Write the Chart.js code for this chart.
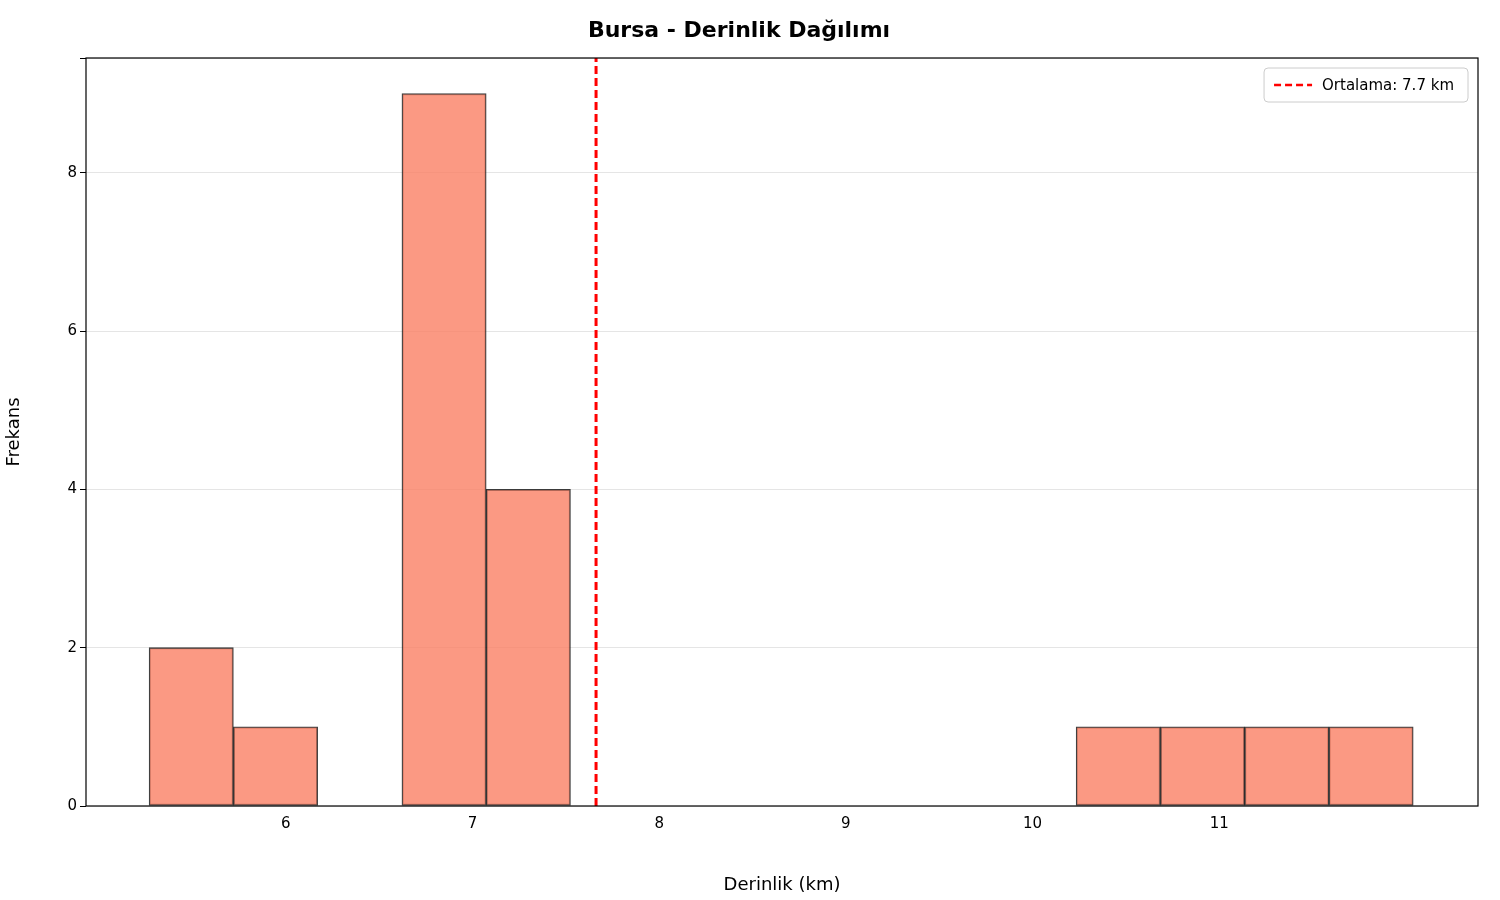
<!DOCTYPE html>
<html><head><meta charset="utf-8">
<script src="https://cdn.jsdelivr.net/npm/chart.js@4"></script>
<style>html,body{margin:0;padding:0;background:#fff}#w{width:1500px;height:900px}</style>
</head><body><div id="w"><canvas id="c"></canvas></div>
<script>
const binStart = 5.268;
const binWidth = 0.4514;
const counts = [2,1,0,9,4,0,0,0,0,0,0,1,1,1,1];
const meanDepth = 7.662;
const meanLabel = 'Ortalama: 7.7 km';
const titleText = 'Bursa - Derinlik Dağılımı';
const xTitle = 'Derinlik (km)';
const yTitle = 'Frekans';

const barData = counts.map((c,i)=>({x: binStart + (i+0.5)*binWidth, y: c}));
const font = 'DejaVu Sans';

const frame = {
  id:'frame',
  afterDraw(ch){
    const a=ch.chartArea, g=ch.ctx;
    g.save(); g.strokeStyle='#000'; g.lineWidth=1.2;
    g.strokeRect(a.left, a.top, a.right-a.left, a.bottom-a.top);
    // legend
    g.font='15px '+font;
    const tw=g.measureText(meanLabel).width;
    const w=tw+72, h=34, x=a.right-10-w, y=a.top+10;
    g.fillStyle='rgba(255,255,255,0.85)'; g.strokeStyle='#ccc'; g.lineWidth=1;
    g.beginPath(); g.roundRect(x,y,w,h,4); g.fill(); g.stroke();
    g.strokeStyle='red'; g.lineWidth=2.5; g.setLineDash([7,4]);
    g.beginPath(); g.moveTo(x+10,y+h/2); g.lineTo(x+48,y+h/2); g.stroke();
    g.setLineDash([]); g.fillStyle='#000'; g.textBaseline='middle';
    g.fillText(meanLabel, x+58, y+h/2+1);
    g.restore();
  }
};

new Chart(document.getElementById('c'), {
  data:{datasets:[
    {type:'bar', data:barData, backgroundColor:'rgba(250,128,100,0.8)', borderColor:'rgba(0,0,0,0.75)', borderWidth:1.3, barPercentage:1, categoryPercentage:1, borderSkipped:false},
    {type:'line', data:[{x:meanDepth,y:0},{x:meanDepth,y:9.45}], borderColor:'red', borderWidth:3, borderDash:[8,4], pointRadius:0, fill:false}
  ]},
  options:{
    responsive:true, maintainAspectRatio:false, animation:false,
    layout:{padding:{left:0,right:22,top:0,bottom:0}},
    plugins:{
      legend:{display:false}, tooltip:{enabled:false},
      title:{display:true, text:titleText, color:'#000', font:{family:font,size:22,weight:'bold'}, padding:{top:18,bottom:13.6}}
    },
    scales:{
      x:{type:'linear', min:4.930, max:12.386, offset:false,
        afterFit(s){s.height=94;},
        ticks:{stepSize:1, color:'#000', font:{family:font,size:15}, callback:v=>Number.isInteger(v)?v:''},
        grid:{display:false, drawTicks:true, tickLength:6, tickColor:'#000'},
        border:{display:false},
        title:{display:true, text:xTitle, color:'#000', font:{family:font,size:18}, padding:{top:4}}},
      y:{min:0, max:9.45,
        afterFit(s){s.width=86;},
        ticks:{stepSize:2, color:'#000', font:{family:font,size:15}, callback:v=>Number.isInteger(v)&&v%2===0?v:''},
        grid:{color:'rgba(0,0,0,0.1)', tickColor:'#000', tickLength:6},
        border:{display:false},
        title:{display:true, text:yTitle, color:'#000', font:{family:font,size:18}}}
    }
  },
  plugins:[frame]
});
</script></body></html>
